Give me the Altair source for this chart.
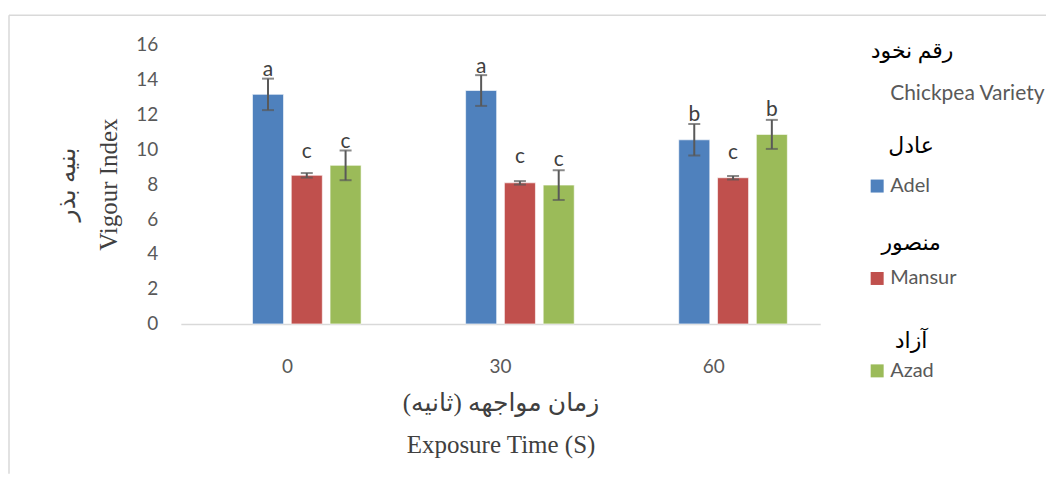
import altair as alt
import pandas as pd

# ---- data ----
times = ["0", "30", "60"]
varieties = ["Adel", "Mansur", "Azad"]
persian_names = ["عادل", "منصور", "آزاد"]
colors = ["#4F81BD", "#C0504D", "#9BBB59"]

adel_vals = [13.13, 13.35, 10.53]
mansur_vals = [8.50, 8.07, 8.36]
azad_vals = [9.07, 7.94, 10.84]

adel_err = [0.90, 0.88, 0.90]
mansur_err = [0.13, 0.10, 0.10]
azad_err = [0.85, 0.85, 0.83]

adel_letters = ["a", "a", "b"]
mansur_letters = ["c", "c", "c"]
azad_letters = ["c", "c", "b"]

# letter baselines (data units, as placed in the reference)
adel_lab = [14.17, 14.36, 11.60]
mansur_lab = [9.49, 9.22, 9.41]
azad_lab = [10.07, 9.03, 11.89]

y_ticks = [0, 2, 4, 6, 8, 10, 12, 14, 16]

legend_title = "رقم نخود"
legend_subtitle = "Chickpea Variety"
x_title = ["زمان مواجهه (ثانیه)", "Exposure Time (S)"]
y_title = ["بنیه بذر", "Vigour Index"]

# ---- build table ----
vals = [adel_vals, mansur_vals, azad_vals]
errs = [adel_err, mansur_err, azad_err]
lets = [adel_letters, mansur_letters, azad_letters]
labs = [adel_lab, mansur_lab, azad_lab]
rows = []
for vi, v in enumerate(varieties):
    for ti, t in enumerate(times):
        rows.append({
            "time": t, "variety": v, "value": vals[vi][ti],
            "lo": vals[vi][ti] - errs[vi][ti], "hi": vals[vi][ti] + errs[vi][ti],
            "letter": lets[vi][ti], "lab": labs[vi][ti],
        })
df = pd.DataFrame(rows)
leg = pd.DataFrame({"variety": varieties, "persian": persian_names})

SANS = "Lato"
SERIF = "Liberation Serif, DejaVu Sans"

yscale = alt.Scale(domain=[0, 16])
xscale = alt.Scale(paddingInner=0.272, paddingOuter=0.136)
xaxis = alt.Axis(title=x_title, labelAngle=0, labelFont=SANS, labelFontSize=19,
                 labelColor="#595959", labelPadding=34, ticks=False,
                 domainColor="#d9d9d9", domainWidth=1.5,
                 titleFont=SERIF, titleFontSize=25, titleFontWeight="normal",
                 titleColor="#404040", titleLineHeight=42, titlePadding=14)
yaxis = alt.Axis(values=y_ticks, grid=False, domain=False, ticks=False,
                 labelOverlap=False, labelSeparation=0,
                 labelFont=SANS, labelFontSize=19, labelColor="#595959",
                 labelPadding=23, title=y_title, titleFont=SERIF,
                 titleFontSize=25, titleFontWeight="normal", titleColor="#404040",
                 titleLineHeight=42, titlePadding=14)
xenc = alt.X("time:N", sort=times, scale=xscale, axis=xaxis)
xoff = alt.XOffset("variety:N",
                   scale=alt.Scale(domain=["_"] + varieties, paddingInner=0.2, paddingOuter=0.1))
colorenc = alt.Color("variety:N", scale=alt.Scale(domain=varieties, range=colors), legend=None)

bars = alt.Chart(df).mark_bar(stroke="white", strokeWidth=1, strokeOpacity=0.6).encode(
    x=xenc, xOffset=xoff,
    y=alt.Y("value:Q", scale=yscale, axis=yaxis),
    color=colorenc,
)
whisk = alt.Chart(df).mark_rule(color="#595959", strokeWidth=2).encode(
    x=xenc, xOffset=xoff,
    y=alt.Y("lo:Q", scale=yscale, axis=yaxis), y2="hi:Q")
cap_lo = alt.Chart(df).mark_tick(color="#595959", thickness=2, size=12).encode(
    x=xenc, xOffset=xoff, y=alt.Y("lo:Q", scale=yscale, axis=yaxis))
cap_hi = alt.Chart(df).mark_tick(color="#595959", thickness=2, size=12).encode(
    x=xenc, xOffset=xoff, y=alt.Y("hi:Q", scale=yscale, axis=yaxis))
letters = alt.Chart(df).mark_text(font=SANS, fontSize=21, color="#404040",
                                  baseline="alphabetic").encode(
    x=xenc, xOffset=xoff,
    y=alt.Y("lab:Q", scale=yscale, axis=yaxis), text="letter:N")

main = alt.layer(bars, whisk, cap_lo, cap_hi, letters)

# ---- custom legend ----
one = pd.DataFrame({"t": [legend_title], "s": [legend_subtitle]})
leg_title = alt.Chart(one).mark_text(font=SERIF, fontSize=22, color="black",
                                     align="center").encode(
    x=alt.value(732), y=alt.value(7), text="t:N")
leg_sub = alt.Chart(one).mark_text(font=SANS, fontSize=21, color="#595959",
                                   align="left").encode(
    x=alt.value(710), y=alt.value(50), text="s:N")
leg_y = alt.Y("variety:N", sort=varieties,
              scale=alt.Scale(type="point", range=[142, 327], padding=0), axis=None)
leg_y_fa = alt.Y("variety:N", sort=varieties,
                 scale=alt.Scale(type="point", range=[102, 297], padding=0), axis=None)
leg_sw = alt.Chart(leg).mark_square(size=169, opacity=1).encode(
    x=alt.value(697), y=leg_y, color=colorenc)
leg_en = alt.Chart(leg).mark_text(font=SANS, fontSize=20, color="#595959",
                                  align="left").encode(
    x=alt.value(710), y=leg_y, text="variety:N")
leg_fa = alt.Chart(leg).mark_text(font=SERIF, fontSize=22, color="black",
                                  align="center").encode(
    x=alt.value(731), y=leg_y_fa, text="persian:N")

# ---- frame lines of the chart area ----
border_v = alt.Chart(one).mark_rule(color="#d9d9d9", strokeWidth=1.5).encode(
    x=alt.value(-172), y=alt.value(-29), y2=alt.value(430))
border_h = alt.Chart(one).mark_rule(color="#d9d9d9", strokeWidth=1.5).encode(
    x=alt.value(-172), x2=alt.value(866), y=alt.value(-29))

chart = alt.layer(
    main, leg_title, leg_sub, leg_sw, leg_en, leg_fa, border_v, border_h
).resolve_scale(y="independent", color="shared").properties(
    width=640, height=280,
    padding={"left": 0, "top": 6, "right": 0, "bottom": 0},
).configure(background="white").configure_view(stroke=None)

chart.save("out.html", embed_options={"renderer": "svg", "actions": False})
